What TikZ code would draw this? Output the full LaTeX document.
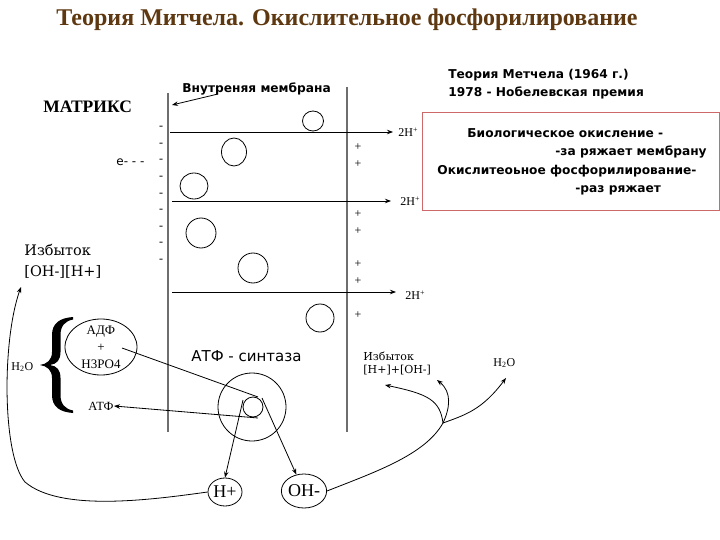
\documentclass[tikz,border=0pt]{standalone}
\usepackage{fontspec}
\setmainfont{Liberation Serif}
\newfontfamily\djs{DejaVu Sans}
\newfontfamily\djserif{DejaVu Serif}
\usetikzlibrary{arrows.meta,shapes.geometric}
\definecolor{titlebrown}{RGB}{94,56,16}
\definecolor{boxred}{RGB}{205,105,105}
\definecolor{memgray}{RGB}{110,110,110}
\newcommand\fsz[1]{\fontsize{#1}{#1}\selectfont}
\begin{document}
\begin{tikzpicture}[x=1pt,y=-1pt,
  line width=0.8pt,
  tip/.style={-{Stealth[length=6pt,width=4.5pt]}},
  lbl/.style={inner sep=0pt},
  memline/.style={draw=memgray,line width=1.4pt},
  blob/.style={ellipse,draw,inner sep=0pt},
  ion/.style={ellipse,draw,inner sep=0pt,font=\fsz{18}},
  boldsans/.style={lbl,anchor=west,font=\djs\bfseries\fsz{12.2}}]
\useasboundingbox[fill=white] (0,0) rectangle (720,540);
% title
\node[lbl,text=titlebrown,font=\fsz{24}\bfseries] (title) at (347,20) {Теория Митчела. Окислительное фосфорилирование};
% membrane
\node[lbl,anchor=west,font=\fsz{17.5}\bfseries] (matrix) at (43,107) {МАТРИКС};
\node[boldsans] (mem) at (182,89) {Внутреняя мембрана};
\coordinate (mema) at (218,94);
\coordinate (memtip) at (172,105);
\draw[tip] (mema) -- (memtip);
\coordinate (L1) at (168,93); \coordinate (L2) at (168,432);
\coordinate (R1) at (347,87); \coordinate (R2) at (347,432);
\draw[memline] (L1) -- (L2);
\draw[memline] (R1) -- (R2);
% proton arrows
\node[lbl,anchor=west,font=\fsz{12}] (hp1) at (398,132) {2H\textsuperscript{+}};
\node[lbl,anchor=west,font=\fsz{12}] (hp2) at (400,201) {2H\textsuperscript{+}};
\node[lbl,anchor=west,font=\fsz{12}] (hp3) at (405,295) {2H\textsuperscript{+}};
\coordinate (s1) at (170,132); \coordinate (e1) at (393,132);
\coordinate (s2) at (172,201); \coordinate (e2) at (391,201);
\coordinate (s3) at (172,292); \coordinate (e3) at (396,292);
\draw[tip] (s1) -- (e1);
\draw[tip] (s2) -- (e2);
\draw[tip] (s3) -- (e3);
% charges
\foreach \i in {0,...,8} \node[lbl,font=\fsz{12}] (m\i) at (161,128+16.6*\i) {-};
\foreach \y [count=\k] in {147,164,214,231,264,281,315} \node[lbl,font=\fsz{12}] (p\k) at (358,\y) {+};
\node[lbl,anchor=west,font=\djs\fsz{12}] (el) at (116,162) {e- - -};
% carriers
\node[blob,minimum width=21pt,minimum height=20pt] (c1) at (313,121) {};
\node[blob,minimum width=25pt,minimum height=28pt] (c2) at (234,152) {};
\node[blob,minimum width=28pt,minimum height=26pt] (c3) at (194,186) {};
\node[blob,minimum width=30pt,minimum height=30pt] (c4) at (201,233) {};
\node[blob,minimum width=30pt,minimum height=30pt] (c5) at (253,268) {};
\node[blob,minimum width=28pt,minimum height=28pt] (c6) at (320,318) {};
% right texts
\node[boldsans] (th1) at (448,75) {Теория Метчела (1964 г.)};
\node[boldsans] (th2) at (448,93) {1978 - Нобелевская премия};
\node[draw=boxred,line width=1pt,minimum width=297pt,minimum height=98pt,anchor=north west] (box) at (422,112) {};
\node[boldsans] (b1) at (467,133) {Биологическое окисление -};
\node[boldsans] (b2) at (555,152) {-за ряжает мембрану};
\node[boldsans] (b3) at (437,171) {Окислитеоьное фосфорилирование-};
\node[boldsans] (b4) at (575,190) {-раз ряжает};
% left side
\node[lbl,anchor=west,font=\djserif\fsz{14.5}] (iz1) at (24,250) {Избыток};
\node[lbl,anchor=west,font=\djserif\fsz{14.5}] (oh1) at (24,272) {[OH-][H+]};
\fill (73,317) .. controls (60,318) and (52,323) .. (52,335) -- (52,352)
  .. controls (52,360) and (47,364) .. (40,365)
  .. controls (47,366) and (52,370) .. (52,378) -- (52,395)
  .. controls (52,407) and (60,412) .. (73,413) -- (73,410.5)
  .. controls (65,409) and (60.5,404) .. (60.5,395) -- (60.5,378)
  .. controls (60.5,370) and (57,366) .. (50,365)
  .. controls (57,364) and (60.5,360) .. (60.5,352) -- (60.5,335)
  .. controls (60.5,326) and (65,321) .. (73,319.5) -- cycle;
\node[lbl,anchor=west,font=\fsz{12}] (h2oL) at (11,367) {H\textsubscript{2}O};
\node[ellipse,draw,minimum width=72pt,minimum height=56pt] (adp) at (101,347) {};
\node[lbl,align=center,font=\fsz{13}] (adpt) at (101,347) {АДФ\\[4pt]+\\[4pt]Н3РО4};
\node[lbl,anchor=west,font=\fsz{12.5}] (atf) at (88,406) {АТФ};
% ATP synthase
\node[lbl,anchor=west,font=\djs\fsz{15}] (synl) at (191,356) {АТФ - синтаза};
\node[circle,draw,minimum size=68pt,inner sep=0pt] (syn) at (252,407) {};
\node[circle,draw,minimum size=20pt,inner sep=0pt] (core) at (253,407) {};
\coordinate (adpin) at (122,348);
\coordinate (ctop) at (258,397);
\coordinate (cbot) at (258,418);
\coordinate (ch) at (243,400);
\coordinate (co) at (262,398);
\draw (adpin) -- (ctop);
\draw[tip] (cbot) -- (atf.east);
\node[ion,minimum width=34pt,minimum height=28pt] (hp) at (225,492) {H+};
\node[ion,minimum width=42pt,minimum height=34pt] (oh) at (304,491) {OH-};
\draw[tip] (ch) -- (hp.north);
\draw[tip] (co) -- (oh.115);
% right labels
\node[lbl,anchor=west,font=\djserif\fsz{11}] (iz2) at (363,356) {Избыток};
\node[lbl,anchor=west,font=\djserif\fsz{11}] (hh) at (363,370) {[H+]+[OH-]};
\node[lbl,anchor=west,font=\fsz{12}] (h2oR) at (493,363) {H\textsubscript{2}O};
% curves
\coordinate (izarr) at (21,287);
\draw[tip] (hp.west) .. controls (150,500) and (60,512) .. (25,482) .. controls (2,455) and (2,340) .. (izarr);
\coordinate (junc) at (443,423);
\coordinate (arr1) at (385,385);
\coordinate (arr2) at (437,380);
\coordinate (arr3) at (506,378);
\draw (oh.east) .. controls (375,472) and (425,455) .. (junc);
\draw[tip] (junc) .. controls (440,400) and (428,394) .. (arr1);
\draw[tip] (junc) .. controls (450,408) and (452,392) .. (arr2);
\draw[tip] (junc) .. controls (465,415) and (482,410) .. (arr3);
\end{tikzpicture}
\end{document}
